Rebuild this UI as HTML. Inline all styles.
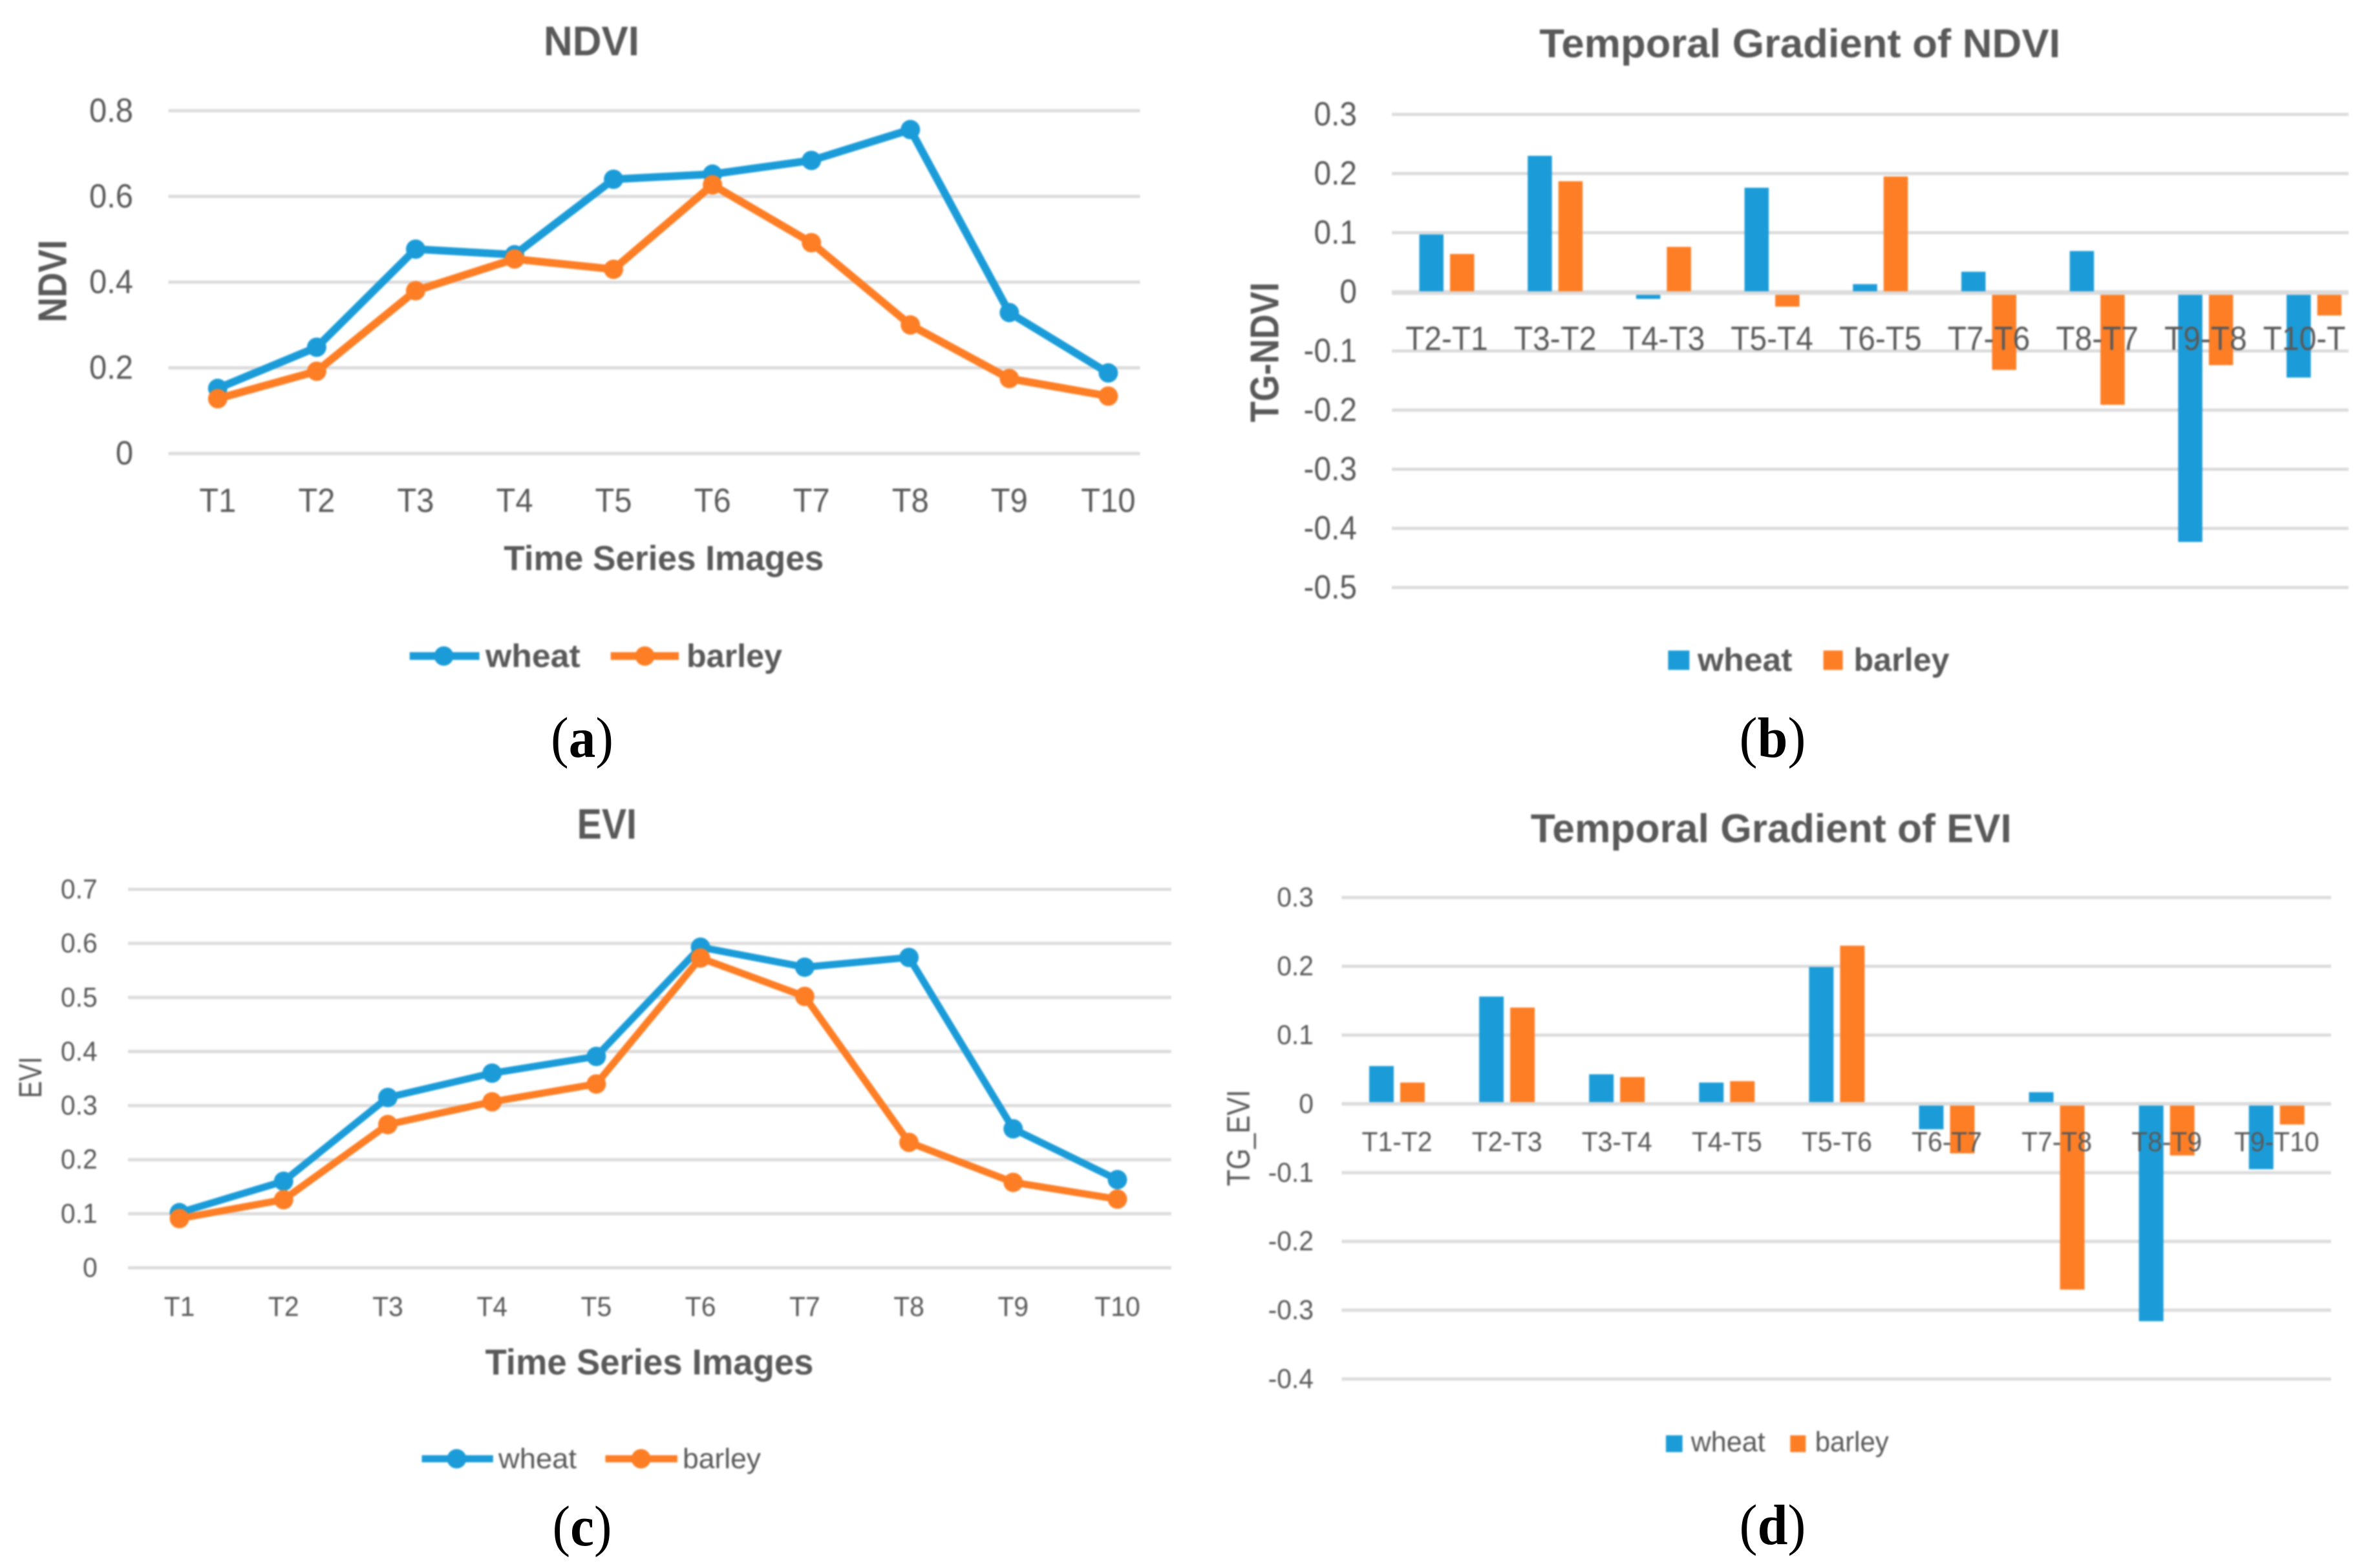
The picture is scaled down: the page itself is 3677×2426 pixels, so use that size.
<!DOCTYPE html>
<html lang="en">
<head>
<meta charset="utf-8">
<title>NDVI and EVI time series and temporal gradients</title>
<style>
html,body{margin:0;padding:0;background:#fff;width:3677px;height:2426px;overflow:hidden}
svg{display:block}
.chart{filter:blur(1.2px)}
text{font-family:"Liberation Sans",sans-serif;fill:#595959}
text.cap{font-family:"Liberation Serif",serif;fill:#000}
</style>
</head>
<body>
<svg id="figure" xmlns="http://www.w3.org/2000/svg" width="3677" height="2426" viewBox="0 0 3677 2426"></svg>
<script>
/* ---------- chart (a) NDVI ---------- */
const ndviCategories = ["T1","T2","T3","T4","T5","T6","T7","T8","T9","T10"];
const ndviWheat  = [0.152,0.248,0.477,0.464,0.640,0.652,0.684,0.756,0.329,0.188];
const ndviBarley = [0.128,0.192,0.380,0.454,0.430,0.627,0.492,0.300,0.175,0.134];
const ndviTicks  = [0,0.2,0.4,0.6,0.8];

/* ---------- chart (b) Temporal Gradient of NDVI ---------- */
const tgNdviCategories = ["T2-T1","T3-T2","T4-T3","T5-T4","T6-T5","T7-T6","T8-T7","T9-T8","T10-T"];
const tgNdviWheat  = [0.097,0.230,-0.012,0.176,0.013,0.034,0.069,-0.423,-0.145];
const tgNdviBarley = [0.064,0.187,0.076,-0.025,0.195,-0.132,-0.191,-0.124,-0.040];
const tgNdviTicks  = [-0.5,-0.4,-0.3,-0.2,-0.1,0,0.1,0.2,0.3];

/* ---------- chart (c) EVI ---------- */
const eviCategories = ["T1","T2","T3","T4","T5","T6","T7","T8","T9","T10"];
const eviWheat  = [0.102,0.160,0.315,0.360,0.391,0.593,0.556,0.574,0.257,0.163];
const eviBarley = [0.091,0.126,0.265,0.307,0.340,0.573,0.502,0.232,0.158,0.127];
const eviTicks  = [0,0.1,0.2,0.3,0.4,0.5,0.6,0.7];

/* ---------- chart (d) Temporal Gradient of EVI ---------- */
const tgEviCategories = ["T1-T2","T2-T3","T3-T4","T4-T5","T5-T6","T6-T7","T7-T8","T8-T9","T9-T10"];
const tgEviWheat  = [0.055,0.156,0.043,0.031,0.199,-0.037,0.017,-0.316,-0.095];
const tgEviBarley = [0.031,0.140,0.039,0.033,0.230,-0.072,-0.270,-0.075,-0.030];
const tgEviTicks  = [-0.4,-0.3,-0.2,-0.1,0,0.1,0.2,0.3];

const BLUE = "#1b9cd8", ORANGE = "#fd7e25", GRID = "#dcdcdc";
const NS = "http://www.w3.org/2000/svg";
const root = document.getElementById("figure");

function make(tag, parent, name, attrs, interact) {
  const el = document.createElementNS(NS, tag);
  
  
  for (const k in attrs) el.setAttribute(k, attrs[k]);
  parent.appendChild(el);
  return el;
}
function label(parent, name, str, x, y, o) {
  const a = {x: x, y: y, "font-size": o.size, "text-anchor": o.anchor || "middle", "dominant-baseline": "central"};
  if (o.bold) a["font-weight"] = "bold";
  if (o.rot) a.transform = "rotate(-90 " + x + " " + y + ")";
  const el = make("text", parent, name, a, false);
  el.textContent = str;
  let len = o.len;
  if (!len && o.condense) len = el.getComputedTextLength() * o.condense;
  if (len) {
    el.setAttribute("textLength", len);
    el.setAttribute("lengthAdjust", "spacingAndGlyphs");
  }
  return el;
}
function linear(d0, d1, r0, r1) { return v => r0 + (v - d0) * (r1 - r0) / (d1 - d0); }
function caption(letter, x, y, len) {
  const el = make("text", root, "panel-label-" + letter, {x: x, y: y, "font-size": 88, "text-anchor": "middle", "dominant-baseline": "central", "class": "cap", textLength: len, lengthAdjust: "spacingAndGlyphs"}, false);
  const b = document.createElementNS(NS, "tspan");
  b.setAttribute("font-weight", "bold");
  b.textContent = letter;
  el.appendChild(document.createTextNode("("));
  el.appendChild(b);
  el.appendChild(document.createTextNode(")"));
}
function frame(g, c) {
  const y = linear(c.tickMin, c.tickMax, c.yMin, c.yMax);
  c.ticks.forEach(t => {
    make("line", g, "gridline-" + t, {x1: c.left, x2: c.right, y1: y(t), y2: y(t), stroke: GRID, "stroke-width": 5}, false);
    label(g, "y-tick-" + t, String(t), c.tickX, y(t), {size: c.tickSize, anchor: "end", condense: c.condense});
  });
  label(g, "chart-title", c.title, c.titleX, c.titleY, {size: c.titleSize, bold: true, len: c.titleLen});
  label(g, "y-axis-title", c.yTitle, c.yTitleX, c.yTitleY, {size: c.yTitleSize, bold: c.yTitleBold, len: c.yTitleLen, rot: true});
  if (c.xTitle) label(g, "x-axis-title", c.xTitle, c.xTitleX, c.xTitleY, {size: c.xTitleSize, bold: true, len: c.xTitleLen});
  return y;
}
function lineChart(c) {
  const g = make("g", root, c.name, {"class": "chart"}, false);
  const y = frame(g, c);
  const x = linear(0, c.cats.length - 1, c.first, c.last);
  c.cats.forEach((t, i) => label(g, "x-tick-" + t, t, x(i), c.catY, {size: c.catSize, condense: c.condense}));
  [["wheat", c.a, BLUE], ["barley", c.b, ORANGE]].forEach(s => {
    const pts = s[1].map((v, i) => x(i).toFixed(1) + "," + y(v).toFixed(1)).join(" ");
    make("polyline", g, s[0] + "-line", {points: pts, fill: "none", stroke: s[2], "stroke-width": c.stroke, "stroke-linejoin": "round"}, false);
    s[1].forEach((v, i) => make("circle", g, s[0] + "-point-" + c.cats[i], {cx: x(i), cy: y(v), r: c.r, fill: s[2]}, false));
  });
  c.legend.forEach(l => {
    const e = make("g", g, "legend-entry-" + l.text, {}, true);
    make("line", e, "legend-line-" + l.text, {x1: l.x1, x2: l.x2, y1: c.legY, y2: c.legY, stroke: l.color, "stroke-width": c.stroke}, false);
    make("circle", e, "legend-marker-" + l.text, {cx: l.m, cy: c.legY, r: c.r, fill: l.color}, false);
    label(e, "legend-label-" + l.text, l.text, l.tx, c.legY, {size: c.legSize, bold: c.legBold, anchor: "start", len: l.tw});
  });
  caption(c.letter, c.capX, c.capY, c.capLen);
}
function barChart(c) {
  const g = make("g", root, c.name, {"class": "chart"}, false);
  const y = frame(g, c);
  const x = linear(0, 1, c.first, c.first + c.step);
  const zero = y(0);
  [["wheat", c.a, BLUE, -1], ["barley", c.b, ORANGE, 1]].forEach(s => {
    s[1].forEach((v, i) => {
      const left = s[3] < 0 ? x(i) - c.gap / 2 - c.barW : x(i) + c.gap / 2;
      make("rect", g, s[0] + "-bar-" + c.cats[i], {x: left, y: Math.min(y(v), zero), width: c.barW, height: Math.abs(y(v) - zero), fill: s[2]}, false);
    });
  });
  make("line", g, "zero-axis-line", {x1: c.left, x2: c.right, y1: zero + c.zeroShift, y2: zero + c.zeroShift, stroke: GRID, "stroke-width": 5.5}, false);
  c.cats.forEach((t, i) => {
    const shift = i === c.cats.length - 1 ? c.lastLabelShift : 0;
    label(g, "x-tick-" + t, t, x(i) + shift, c.catY, {size: c.catSize, condense: c.condense});
  });
  c.legend.forEach(l => {
    const e = make("g", g, "legend-entry-" + l.text, {}, true);
    make("rect", e, "legend-swatch-" + l.text, {x: l.sx, y: c.swY, width: l.sw, height: c.swH, fill: l.color}, false);
    label(e, "legend-label-" + l.text, l.text, l.tx, c.legY, {size: c.legSize, bold: c.legBold, anchor: "start", len: l.tw});
  });
  caption(c.letter, c.capX, c.capY, c.capLen);
}

lineChart({name: "ndvi-chart", letter: "a", title: "NDVI", titleX: 915, titleY: 63.5, titleSize: 64, titleLen: 148,
  yTitle: "NDVI", yTitleX: 82, yTitleY: 435, yTitleSize: 62, yTitleBold: true, yTitleLen: 127.6,
  xTitle: "Time Series Images", xTitleX: 1026.8, xTitleY: 864, xTitleSize: 54, xTitleLen: 495,
  cats: ndviCategories, a: ndviWheat, b: ndviBarley, ticks: ndviTicks,
  tickMin: 0, tickMax: 0.8, yMin: 701.7, yMax: 171.3, left: 260.5, right: 1763.5, tickX: 206, tickSize: 52, condense: 0.94,
  first: 336.8, last: 1714.4, catY: 775, catSize: 52, stroke: 12, r: 15,
  legY: 1015, legSize: 50, legBold: true,
  legend: [{text: "wheat", color: BLUE, x1: 633.7, x2: 741.6, m: 686.5, tx: 751, tw: 146.7},
           {text: "barley", color: ORANGE, x1: 944.7, x2: 1050, m: 997.5, tx: 1062, tw: 148}],
  capX: 900.5, capY: 1142, capLen: 97});

barChart({name: "temporal-gradient-ndvi-chart", letter: "b", title: "Temporal Gradient of NDVI", titleX: 2784.3, titleY: 68, titleSize: 62, titleLen: 806,
  yTitle: "TG-NDVI", yTitleX: 1957, yTitleY: 545, yTitleSize: 62, yTitleBold: true, yTitleLen: 216.6,
  cats: tgNdviCategories, a: tgNdviWheat, b: tgNdviBarley, ticks: tgNdviTicks,
  tickMin: -0.5, tickMax: 0.3, yMin: 909, yMax: 177, left: 2153, right: 3633, tickX: 2099, tickSize: 52, condense: 0.92,
  first: 2238, step: 167.7, barW: 37.5, gap: 10, zeroShift: 2, lastLabelShift: -15, catY: 524.5, catSize: 52,
  legY: 1021, legSize: 50, legBold: true, swY: 1006.5, swH: 30,
  legend: [{text: "wheat", color: BLUE, sx: 2580.4, sw: 33, tx: 2626, tw: 146.4},
           {text: "barley", color: ORANGE, sx: 2820.6, sw: 30, tx: 2867.5, tw: 148}],
  capX: 2742, capY: 1142, capLen: 103});

lineChart({name: "evi-chart", letter: "c", title: "EVI", titleX: 938.8, titleY: 1274.5, titleSize: 66, titleLen: 92.3,
  yTitle: "EVI", yTitleX: 47, yTitleY: 1667, yTitleSize: 50, yTitleBold: false, yTitleLen: 64,
  xTitle: "Time Series Images", xTitleX: 1004.5, xTitleY: 2107, xTitleSize: 56, xTitleLen: 508,
  cats: eviCategories, a: eviWheat, b: eviBarley, ticks: eviTicks,
  tickMin: 0, tickMax: 0.7, yMin: 1961.5, yMax: 1376, left: 198, right: 1811.8, tickX: 150.7, tickSize: 43, condense: 0.95,
  first: 277.5, last: 1728.5, catY: 2022, catSize: 43, stroke: 11, r: 15,
  legY: 2257, legSize: 44, legBold: false,
  legend: [{text: "wheat", color: BLUE, x1: 652.5, x2: 762.8, m: 706.4, tx: 771, tw: 121},
           {text: "barley", color: ORANGE, x1: 936.4, x2: 1047.9, m: 991.6, tx: 1056, tw: 121}],
  capX: 900.5, capY: 2362, capLen: 92});

barChart({name: "temporal-gradient-evi-chart", letter: "d", title: "Temporal Gradient of EVI", titleX: 2739.8, titleY: 1282.6, titleSize: 62, titleLen: 744,
  yTitle: "TG_EVI", yTitleX: 1916, yTitleY: 1760.7, yTitleSize: 50, yTitleBold: false, yTitleLen: 149,
  cats: tgEviCategories, a: tgEviWheat, b: tgEviBarley, ticks: tgEviTicks,
  tickMin: -0.4, tickMax: 0.3, yMin: 2133.6, yMax: 1388.6, left: 2075.5, right: 3606, tickX: 2032, tickSize: 43, condense: 0.95,
  first: 2161, step: 170.1, barW: 38, gap: 10, zeroShift: 0, lastLabelShift: 0, catY: 1767, catSize: 43,
  legY: 2231, legSize: 44, legBold: false, swY: 2220.7, swH: 26,
  legend: [{text: "wheat", color: BLUE, sx: 2577, sw: 25.7, tx: 2615.7, tw: 115},
           {text: "barley", color: ORANGE, sx: 2769.3, sw: 24, tx: 2807.7, tw: 114}],
  capX: 2742, capY: 2360, capLen: 103});
</script>
</body>
</html>
